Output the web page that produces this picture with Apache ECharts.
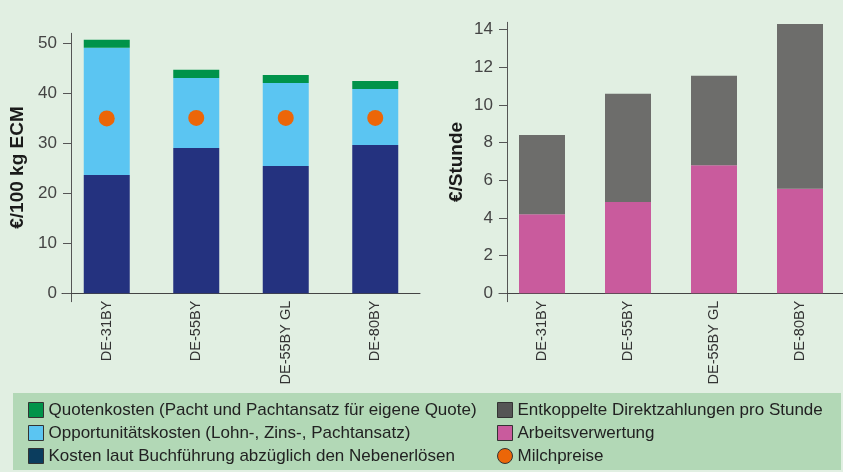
<!DOCTYPE html>
<html>
<head>
<meta charset="utf-8">
<script src="https://cdn.jsdelivr.net/npm/echarts@6/dist/echarts.min.js"></script>
<style>
html,body{margin:0;padding:0;background:#e1efe2;}
#chart{width:843px;height:472px;}
</style>
</head>
<body>
<div id="chart"></div>
<script>
// ---- data ----
const categories = ['DE-31BY', 'DE-55BY', 'DE-55BY GL', 'DE-80BY'];
const kostenBuchfuehrung = [23.6, 29.0, 25.4, 29.6];
const opportunitaetskosten = [25.4, 14.0, 16.6, 11.2];
const quotenkosten = [1.6, 1.6, 1.6, 1.6];
const milchpreise = [34.9, 35.0, 35.0, 35.0];
const arbeitsverwertung = [4.2, 4.85, 6.8, 5.55];
const direktzahlungen = [4.2, 5.75, 4.75, 8.75];
const leftTicks = [0, 10, 20, 30, 40, 50];
const rightTicks = [0, 2, 4, 6, 8, 10, 12, 14];

const names = {
  quote: 'Quotenkosten (Pacht und Pachtansatz für eigene Quote)',
  opp: 'Opportunitätskosten (Lohn-, Zins-, Pachtansatz)',
  buch: 'Kosten laut Buchführung abzüglich den Nebenerlösen',
  direkt: 'Entkoppelte Direktzahlungen pro Stunde',
  arbeit: 'Arbeitsverwertung',
  milch: 'Milchpreise'
};

const FONT = "'Liberation Sans', Arial, sans-serif";
const chart = echarts.init(document.getElementById('chart'));

function yAxisCfg(gridIndex, min, max, ticks, name, nameGap, offset) {
  return {
    type: 'value', gridIndex, min, max, offset,
    name, nameLocation: 'middle', nameGap,
    nameTextStyle: {fontFamily: FONT, fontWeight: 'bold', fontSize: 19, color: '#1a1a1a'},
    splitLine: {show: false},
    axisLine: {show: true, lineStyle: {color: '#555', width: 1}},
    axisTick: {show: true, length: 8, lineStyle: {color: '#555'}, customValues: ticks},
    axisLabel: {fontFamily: FONT, fontSize: 17, color: '#444', margin: 14, customValues: ticks}
  };
}
function xAxisCfg(gridIndex) {
  return {
    type: 'category', gridIndex, data: categories,
    axisLine: {show: true, onZero: true, lineStyle: {color: '#444', width: 1}},
    axisTick: {show: false},
    axisLabel: {rotate: 90, margin: -1, fontFamily: FONT, fontSize: 14.5, color: '#333', interval: 0}
  };
}

const legendText = {fontFamily: FONT, fontSize: 17, color: '#222', lineHeight: 17};
const legendItemStyle = {borderColor: '#333', borderWidth: 1};

chart.setOption({
  backgroundColor: '#e1efe2',
  animation: false,
  graphic: [{
    type: 'rect', left: 13, top: 393, z: -10,
    shape: {width: 828, height: 77},
    style: {fill: '#b2d8b6'}
  }],
  grid: [
    {left: 62, top: 33.3, width: 358, height: 268.4},
    {left: 499, top: 22.3, width: 352, height: 279.4}
  ],
  xAxis: [xAxisCfg(0), xAxisCfg(1)],
  yAxis: [
    yAxisCfg(0, -1.68, 51.9, leftTicks, '€/100 kg ECM', 44, -9),
    yAxisCfg(1, -0.446, 14.39, rightTicks, '€/Stunde', 41, -8)
  ],
  legend: [
    {
      type: 'plain', orient: 'vertical', left: 28, top: 401.5, width: 460, height: 90,
      itemWidth: 15, itemHeight: 15, itemGap: 6, padding: 0,
      textStyle: legendText, selectedMode: false,
      data: [
        {name: names.quote, icon: 'rect', itemStyle: Object.assign({color: '#00934a'}, legendItemStyle)},
        {name: names.opp, icon: 'rect', itemStyle: Object.assign({color: '#5bc5f2'}, legendItemStyle)},
        {name: names.buch, icon: 'rect', itemStyle: Object.assign({color: '#0b3d5e'}, legendItemStyle)}
      ]
    },
    {
      type: 'plain', orient: 'vertical', left: 497, top: 401.5, width: 340, height: 90,
      itemWidth: 15, itemHeight: 15, itemGap: 6, padding: 0,
      textStyle: legendText, selectedMode: false,
      data: [
        {name: names.direkt, icon: 'rect', itemStyle: Object.assign({color: '#555555'}, legendItemStyle)},
        {name: names.arbeit, icon: 'rect', itemStyle: Object.assign({color: '#c95b9d'}, legendItemStyle)},
        {name: names.milch, icon: 'circle', itemStyle: Object.assign({color: '#ec6608'}, legendItemStyle)}
      ]
    }
  ],
  series: [
    {name: names.buch, type: 'bar', stack: 'l', xAxisIndex: 0, yAxisIndex: 0, barWidth: 46,
     itemStyle: {color: '#24327f'}, data: kostenBuchfuehrung},
    {name: names.opp, type: 'bar', stack: 'l', xAxisIndex: 0, yAxisIndex: 0, barWidth: 46,
     itemStyle: {color: '#5bc5f2'}, data: opportunitaetskosten},
    {name: names.quote, type: 'bar', stack: 'l', xAxisIndex: 0, yAxisIndex: 0, barWidth: 46,
     itemStyle: {color: '#00934a'}, data: quotenkosten},
    {name: names.milch, type: 'scatter', xAxisIndex: 0, yAxisIndex: 0, symbol: 'circle', symbolSize: 16, z: 5,
     itemStyle: {color: '#ec6608', opacity: 1}, data: milchpreise},
    {name: names.arbeit, type: 'bar', stack: 'r', xAxisIndex: 1, yAxisIndex: 1, barWidth: 46,
     itemStyle: {color: '#c95b9d'}, data: arbeitsverwertung},
    {name: names.direkt, type: 'bar', stack: 'r', xAxisIndex: 1, yAxisIndex: 1, barWidth: 46,
     itemStyle: {color: '#6d6d6b'}, data: direktzahlungen}
  ]
});
</script>
</body>
</html>
